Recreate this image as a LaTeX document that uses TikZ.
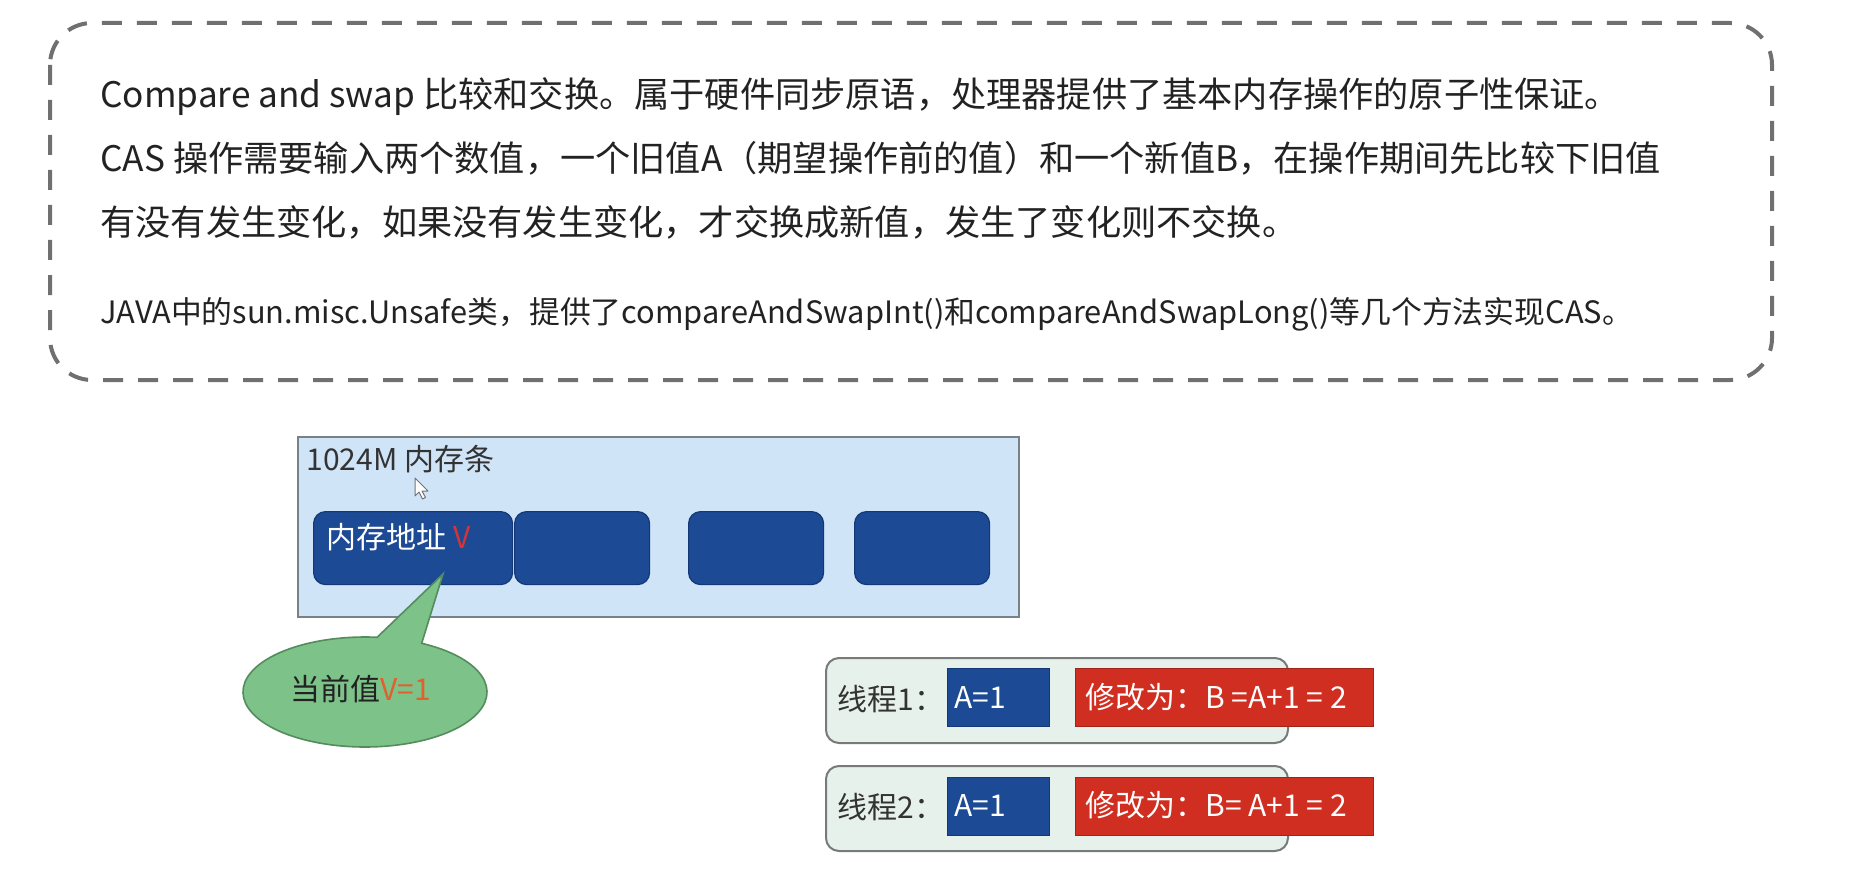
\documentclass[tikz,border=0pt]{standalone}
\usepackage{fontspec}
\setmainfont{Noto Sans CJK SC}
\usetikzlibrary{calc}

\definecolor{dashgray}{RGB}{112,112,112}
\definecolor{txt}{RGB}{34,34,34}
\definecolor{ramfill}{RGB}{208,228,248}
\definecolor{ramline}{RGB}{120,128,136}
\definecolor{cellblue}{RGB}{28,74,148}
\definecolor{cellline}{RGB}{20,56,118}
\definecolor{bubblegreen}{RGB}{125,194,137}
\definecolor{bubbleline}{RGB}{84,140,94}
\definecolor{vorange}{RGB}{226,96,44}
\definecolor{vred}{RGB}{214,52,52}
\definecolor{threadfill}{RGB}{231,241,235}
\definecolor{threadline}{RGB}{118,122,120}
\definecolor{setred}{RGB}{208,46,32}
\definecolor{setline}{RGB}{160,36,26}

\begin{document}
\begin{tikzpicture}[x=0.5pt,y=-0.5pt,
  note/.style={draw=dashgray, line width=2pt, dash pattern=on 10pt off 7.5pt, rounded corners=21pt},
  para/.style={anchor=base west, inner sep=0pt, text=txt, font=\fontsize{17.6pt}{20pt}\selectfont},
  small/.style={anchor=base west, inner sep=0pt, text=txt, font=\fontsize{15.4pt}{18pt}\selectfont},
  label/.style={anchor=base west, inner sep=0pt, text=txt, font=\fontsize{15pt}{17pt}\selectfont},
  ram/.style={draw=ramline, fill=ramfill, line width=1pt, anchor=north west, inner sep=0pt, minimum height=90pt},
  cell/.style={draw=cellline, fill=cellblue, line width=0.6pt, rounded corners=6pt, anchor=north west, inner sep=0pt, minimum height=36.5pt},
  bubble/.style={draw=bubbleline, fill=bubblegreen, line width=0.8pt},
  thread/.style={draw=threadline, fill=threadfill, line width=1pt, rounded corners=6.5pt, anchor=north west, inner sep=0pt, minimum width=231pt, minimum height=42.5pt},
  oldval/.style={draw=cellline, fill=cellblue, line width=0.6pt, anchor=north west, inner sep=0pt, minimum width=51pt, minimum height=29pt},
  newval/.style={draw=setline, fill=setred, line width=0.6pt, anchor=north west, inner sep=0pt, minimum width=149pt, minimum height=29pt},
  pointer/.style={draw=black!55, fill=white, line width=0.5pt, line join=round}
]
\useasboundingbox (0,0) rectangle (1862,882);

% dashed note with the CAS explanation
\draw[note] (50,23) rectangle (1772,380);
\node[para] (l1) at (100,108) {Compare and swap 比较和交换。属于硬件同步原语，处理器提供了基本内存操作的原子性保证。};
\node[para] (l2) at (100,172) {CAS 操作需要输入两个数值，一个旧值A（期望操作前的值）和一个新值B，在操作期间先比较下旧值};
\node[para] (l3) at (100,235) {有没有发生变化，如果没有发生变化，才交换成新值，发生了变化则不交换。};
\node[small] (l4) at (100,323) {JAVA中的sun.misc.Unsafe类，提供了compareAndSwapInt()和compareAndSwapLong()等几个方法实现CAS。};

% memory module with its cells
\node[ram, minimum width=360.5pt] (ram) at (297,436) {};
\node[label, text=black!80] (ramtitle) at (306,470) {1024M 内存条};
\node[cell, minimum width=99.5pt] (c1) at (313,511) {};
\node[cell, minimum width=67.5pt] (c2) at (514,511) {};
\node[cell, minimum width=67.5pt] (c3) at (688,511) {};
\node[cell, minimum width=67.5pt] (c4) at (854,511) {};
\node[label, text=white] (addr) at (326,548) {内存地址 \textcolor{vred}{V}};

% mouse pointer
\draw[pointer] (415,478) -- (415,496) -- (419,492) -- (422.5,499) -- (425.5,497.5) -- (422,491) -- (428,491) -- cycle;

% speech bubble pointing at the address cell
\coordinate (ec) at (365,692);
\coordinate (tip) at (443,574);
\draw[bubble] ($(ec)+(84.3:61pt and 27.5pt)$) -- (tip) -- ($(ec)+(62.3:61pt and 27.5pt)$)
  arc[start angle=62.3, end angle=-275.7, x radius=61pt, y radius=27.5pt] -- cycle;
\node[label] (cur) at (290,700) {当前值\textcolor{vorange}{V=1}};

% thread 1
\node[thread] (t1) at (825,657) {};
\node[label, text=black!80] (t1name) at (837,710) {线程1：};
\node[oldval] (a1) at (947,668) {};
\node[label, text=white] (a1txt) at (954,708) {A=1};
\node[newval] (b1) at (1075,668) {};
\node[label, text=white] (b1txt) at (1085,708) {修改为：B =A+1 = 2};

% thread 2
\node[thread] (t2) at (825,765) {};
\node[label, text=black!80] (t2name) at (837,818) {线程2：};
\node[oldval] (a2) at (947,777) {};
\node[label, text=white] (a2txt) at (954,816) {A=1};
\node[newval] (b2) at (1075,777) {};
\node[label, text=white] (b2txt) at (1085,816) {修改为：B= A+1 = 2};
\end{tikzpicture}
\end{document}
